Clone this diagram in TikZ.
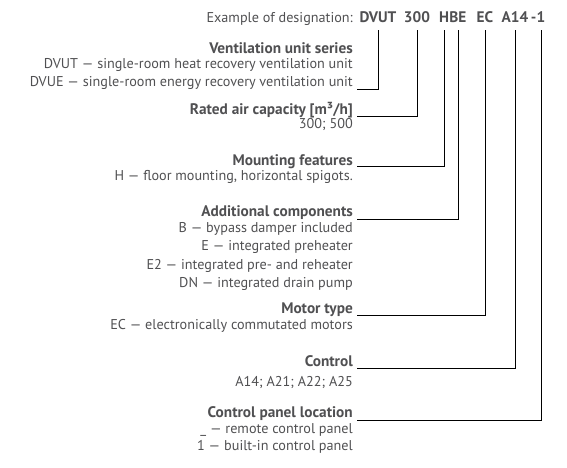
\documentclass[tikz,border=0pt]{standalone}
\usepackage{fontspec}
\setmainfont{PT Sans}
\usetikzlibrary{positioning}
\definecolor{ink}{HTML}{505052}
\newcommand\notefont{\fontsize{14.2}{18.3}\selectfont}
\newcommand\headfont{\fontsize{15.3}{18}\selectfont\bfseries}

\begin{document}
\begin{tikzpicture}[x=1pt, y=-1pt,
    every node/.style={inner sep=0pt, text=ink},
    code/.style={anchor=base, font=\headfont},
    head/.style={anchor=base east, font=\headfont},
    note/.style={anchor=base east, align=right, font=\notefont},
    lead/.style={draw=black, line width=0.8pt}]
  \useasboundingbox (0,0) rectangle (567,467);
  \node [note] (example) at (353,22) {Example of designation:};
  \node [code] (dvut) at (378,22) {DVUT};
  \node [code] (rate) at (417,22) {300};
  \node [code] (h) at (444,22) {H};
  \node [code, anchor=base west] (be) at (h.base east) {BE};
  \node [code] (ec) at (485,22) {EC};
  \node [code] (a14) at (515,22) {A14};
  \node [code] (dash) at (533.5,22) {-};
  \node [code] (one) at (541,22) {1};

  \node [head] (series) at (353,53.3) {Ventilation unit series};
  \node [note] (seriesnote) at (353,86.7)
        {DVUT --- single-room heat recovery ventilation unit\\
         DVUE --- single-room energy recovery ventilation unit};
  \node [head] (capacity) at (353,114) {Rated air capacity [m³/h]};
  \node [note] (capacitynote) at (353,128) {300; 500};
  \node [head] (mounting) at (353,165) {Mounting features};
  \node [note] (mountingnote) at (353,180.7) {H --- floor mounting, horizontal spigots.};
  \node [head] (extras) at (353,216.7) {Additional components};
  \node [note, font=\fontsize{14.2}{18.2}\selectfont] (extrasnote) at (353,287.3)
        {B --- bypass damper included\\
         E --- integrated preheater\\
         E2 --- integrated pre- and reheater\\
         DN --- integrated drain pump};
  \node [head] (motor) at (353,313.3) {Motor type};
  \node [note] (motornote) at (353,329.3) {EC --- electronically commutated motors};
  \node [head] (control) at (353,366) {Control};
  \node [note] (controlnote) at (353,386) {A14; A21; A22; A25};
  \node [head] (panel) at (353,417.5) {Control panel location};
  \node [note, font=\fontsize{14.2}{17}\selectfont] (panelnote) at (353,450)
        {\_ --- remote control panel\\
         1 --- built-in control panel};

  \draw [lead] ([shift={(4,2.6)}]seriesnote.base east) -| ([yshift=-8pt]dvut.base);
  \draw [lead] ([shift={(4,2.2)}]capacity.base east) -| ([yshift=-8pt]rate.base);
  \draw [lead] ([shift={(4,1.7)}]mounting.base east) -| ([yshift=-8pt]h.base);
  \draw [lead] ([shift={(4,2.6)}]extras.base east) -| ([yshift=-8pt]be.base);
  \draw [lead] ([shift={(4,2.4)}]motor.base east) -| ([yshift=-8pt]ec.base);
  \draw [lead] ([shift={(4,2.3)}]control.base east) -| ([yshift=-8pt]a14.base);
  \draw [lead] ([shift={(4,2.5)}]panel.base east) -| ([yshift=-8pt]one.base);
\end{tikzpicture}
\end{document}
